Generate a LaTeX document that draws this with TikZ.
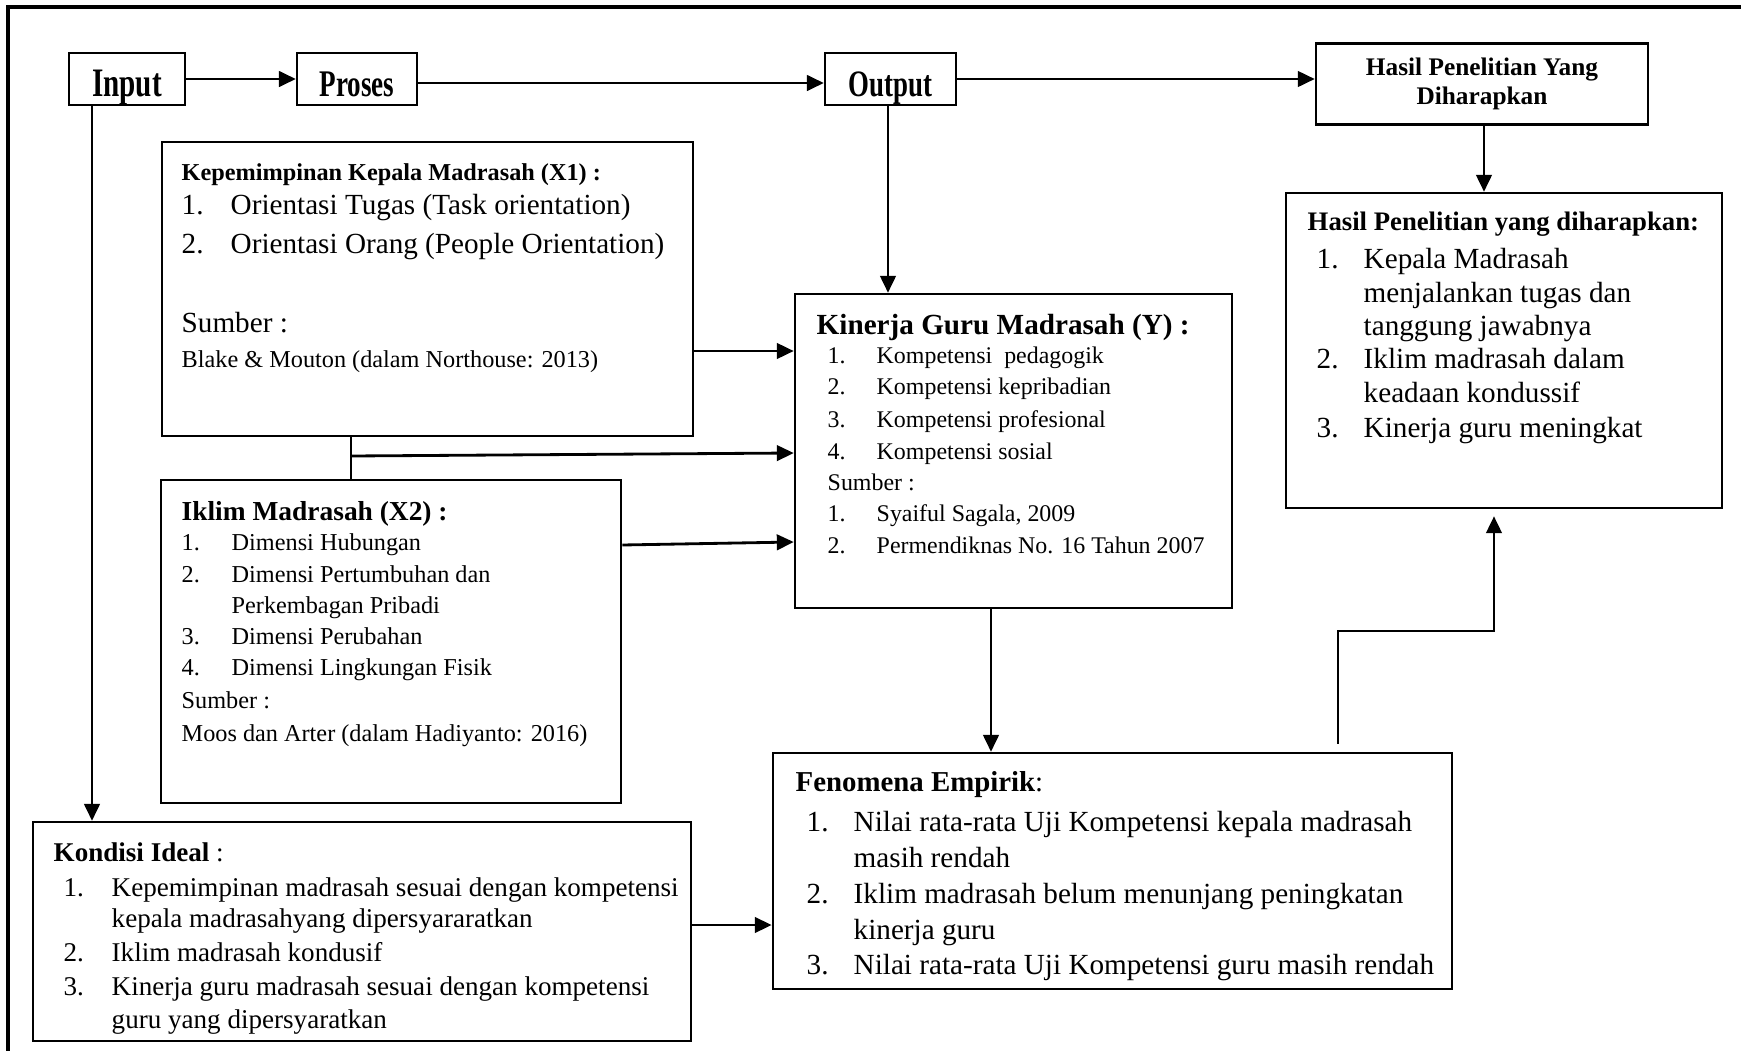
\documentclass[tikz,border=0pt]{standalone}
\usepackage{fontspec}
\setmainfont{Liberation Serif}
\newfontfamily\narrowserif[FakeStretch=0.72]{Liberation Serif}
\usetikzlibrary{arrows.meta}
\newcommand{\setfs}[1]{\fontsize{#1}{#1}\selectfont}
\tikzset{
    box/.style={
        draw,
        line width=0.65pt,
        inner sep=0pt
    },
    tag/.style={
        box,
        align=center
    },
    stage/.style={
        box,
        text height=10.2pt,
        text depth=0pt,
        minimum height=0.52cm
    },
    txt/.style={
        anchor=base west,
        inner sep=0pt
    },
    arr/.style={
        -{Triangle[length=4.8pt, width=4.4pt]},
        line width=0.8pt
    },
    link/.style={
        line width=0.8pt
    }
}

\begin{document}
\begin{tikzpicture}[x=0.01cm, y=-0.01cm]
  \useasboundingbox (0,0) rectangle (1741,1051);
  % Frame
  \draw[line width=1pt] (8,7) rectangle (1800,1100);

  % Top row
  \node[stage, font=\narrowserif\bfseries\setfs{11.5}, minimum width=1.16cm] (input) at (127,79) {Input};
  \node[stage, font=\narrowserif\bfseries\setfs{10.7}, minimum width=1.20cm] (proses) at (357,79) {Proses};
  \node[stage, font=\narrowserif\bfseries\setfs{10.6}, minimum width=1.31cm] (output) at (890.5,79) {Output};
  \node[tag, font=\bfseries\fontsize{7.2}{8.3}\selectfont, minimum width=3.32cm, minimum height=0.81cm] (hasiltop) at (1482,84) {Hasil Penelitian Yang\\Diharapkan};

  % Boxes
  \node[box, minimum width=5.31cm, minimum height=2.94cm] (x1) at (427.5,289) {};
  \node[box, minimum width=4.37cm, minimum height=3.14cm] (kin) at (1013.5,451) {};
  \node[box, minimum width=4.36cm, minimum height=3.15cm] (hasil) at (1504,350.5) {};
  \node[box, minimum width=4.60cm, minimum height=3.23cm] (x2) at (391,641.5) {};
  \node[box, minimum width=6.79cm, minimum height=2.36cm] (fen) at (1112.5,871) {};
  \node[box, minimum width=6.58cm, minimum height=2.19cm] (kon) at (362,931.5) {};

  % Kepemimpinan (X1)
  \node[txt, font=\bfseries\setfs{6.9}] (x1t) at (181,180) {Kepemimpinan Kepala Madrasah (X1) :};
  \node[txt, font=\setfs{8.3}] (x1a) at (181,214) {\makebox[0.49cm][l]{1.}Orientasi Tugas (Task orientation)};
  \node[txt, font=\setfs{8.3}] (x1b) at (181,253) {\makebox[0.49cm][l]{2.}Orientasi Orang (People Orientation)};
  \node[txt, font=\setfs{8.3}] (x1s) at (181,332) {Sumber :};
  \node[txt, font=\setfs{6.9}] (x1r) at (181,367) {Blake \& Mouton (dalam Northouse: 2013)};

  % Kinerja (Y)
  \node[txt, font=\bfseries\setfs{8.3}] (kint) at (816,334) {Kinerja Guru Madrasah (Y) :};
  \foreach \yy/\nr/\lbl [count=\i] in {363/1./Kompetensi\ \ pedagogik, 394/2./Kompetensi kepribadian,
      427/3./Kompetensi profesional, 459/4./Kompetensi sosial, 521/1./{Syaiful Sagala, 2009},
      553/2./Permendiknas No. 16 Tahun 2007}
    \node[txt, font=\setfs{6.8}] (kin\i) at (827,\yy) {\makebox[0.49cm][l]{\nr}\lbl};
  \node[txt, font=\setfs{6.8}] (kins) at (827,490) {Sumber :};

  % Iklim (X2)
  \node[txt, font=\bfseries\setfs{7.8}] (x2t) at (181,520) {Iklim Madrasah (X2) :};
  \foreach \yy/\nr/\lbl [count=\i] in {550/1./Dimensi Hubungan, 582/2./Dimensi Pertumbuhan dan,
      613//Perkembagan Pribadi, 644/3./Dimensi Perubahan, 675/4./Dimensi Lingkungan Fisik}
    \node[txt, font=\setfs{6.9}] (x2\i) at (181,\yy) {\makebox[0.5cm][l]{\nr}\lbl};
  \node[txt, font=\setfs{6.9}] (x2s) at (181,708) {Sumber :};
  \node[txt, font=\setfs{6.9}] (x2r) at (181,741) {Moos dan Arter (dalam Hadiyanto: 2016)};

  % Hasil penelitian
  \node[txt, font=\bfseries\setfs{7.6}] (hast) at (1307,230) {Hasil Penelitian yang diharapkan:};
  \foreach \yy/\nr/\lbl [count=\i] in {268/1./Kepala Madrasah, 302//menjalankan tugas dan,
      335//tanggung jawabnya, 368/2./Iklim madrasah dalam, 402//keadaan kondussif,
      437/3./Kinerja guru meningkat}
    \node[txt, font=\setfs{8.3}] (has\i) at (1316,\yy) {\makebox[0.47cm][l]{\nr}\lbl};

  % Kondisi ideal
  \node[txt, font=\setfs{7.7}] (kont) at (53,861) {\textbf{Kondisi Ideal} :};
  \foreach \yy/\nr/\lbl [count=\i] in {896/1./Kepemimpinan madrasah sesuai dengan kompetensi,
      927//kepala madrasahyang dipersyararatkan, 961/2./Iklim madrasah kondusif,
      995/3./Kinerja guru madrasah sesuai dengan kompetensi, 1028//guru yang dipersyaratkan}
    \node[txt, font=\setfs{7.7}] (kon\i) at (63,\yy) {\makebox[0.48cm][l]{\nr}\lbl};

  % Fenomena empirik
  \node[txt, font=\setfs{8.2}] (fent) at (795,791) {\textbf{Fenomena Empirik}:};
  \foreach \yy/\nr/\lbl [count=\i] in {831/1./Nilai rata-rata Uji Kompetensi kepala madrasah,
      867//masih rendah, 903/2./Iklim madrasah belum menunjang peningkatan,
      939//kinerja guru, 974/3./Nilai rata-rata Uji Kompetensi guru masih rendah}
    \node[txt, font=\setfs{8.3}] (fen\i) at (806,\yy) {\makebox[0.47cm][l]{\nr}\lbl};

  % Connectors
  \draw[arr] (input.east |- 0,79) -- (proses.west |- 0,79);
  \draw[arr] (proses.east |- 0,83) -- (output.west |- 0,83);
  \draw[arr] (output.east |- 0,79) -- (hasiltop.west |- 0,79);
  \draw[arr] (hasiltop.south -| 1484,0) -- (hasil.north -| 1484,0);
  \draw[arr] (output.south -| 888,0) -- (kin.north -| 888,0);
  \draw[arr] (x1.east |- 0,351) -- (kin.west |- 0,351);
  \draw[link] (x1.south -| 351,0) -- (x2.north -| 351,0);
  \coordinate (split) at (351,456);
  \draw[arr] (split) -- (kin.west |- 0,453);
  \draw[arr] (x2.east |- 0,545) -- (kin.west |- 0,542);
  \draw[arr] (kin.south -| 991,0) -- (fen.north -| 991,0);
  \draw[arr, shorten <=2.3pt, shorten >=2pt] (fen.north -| 1338,0) |- (1494,631) -- (hasil.south -| 1494,0);
  \draw[arr] (input.south -| 92,0) -- (kon.north -| 92,0);
  \draw[arr] (kon.east |- 0,925) -- (fen.west |- 0,925);
\end{tikzpicture}
\end{document}
